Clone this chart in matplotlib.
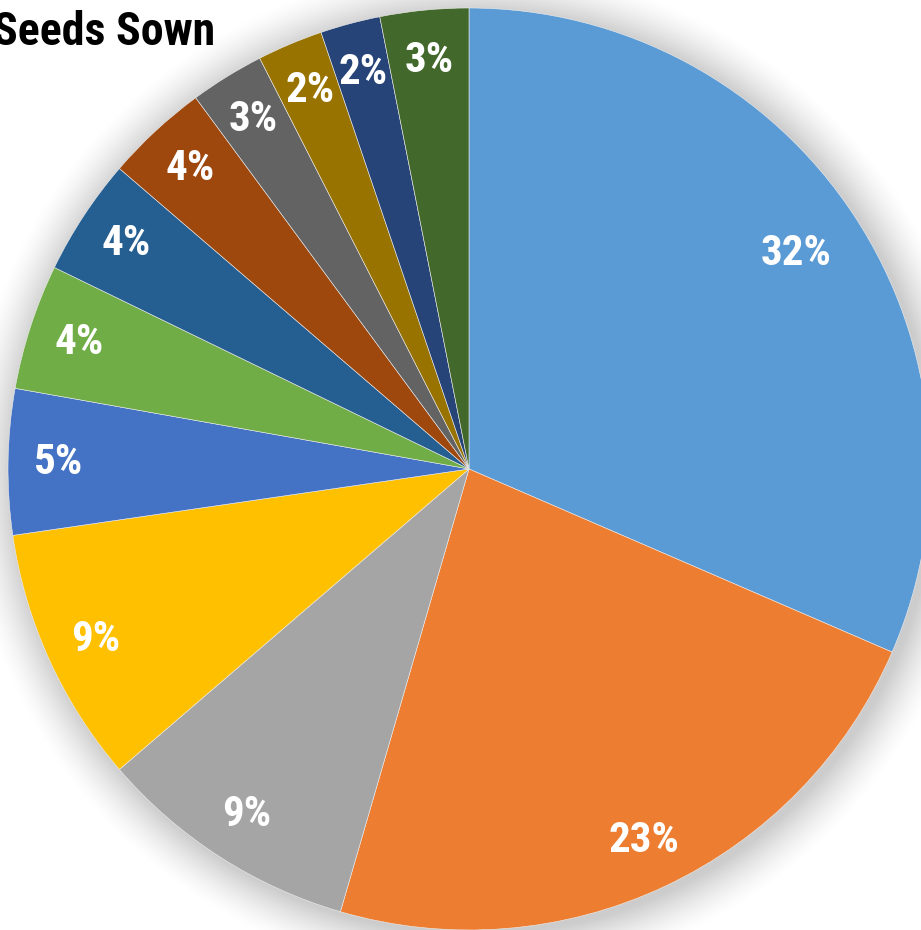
import numpy as np
import matplotlib
matplotlib.use('Agg')
import matplotlib.pyplot as plt

# Share of seeds sown per variety, clockwise from 12 o'clock
shares = [31.5, 23.0, 9.2, 9.0, 5.1, 4.4, 4.1, 3.6, 2.6, 2.3, 2.1, 3.1]
colors = ['#5B9BD5', '#ED7D31', '#A5A5A5', '#FFC000', '#4472C4', '#70AD47',
          '#255E91', '#9E480E', '#636363', '#997300', '#264478', '#43682B']
title = 'Seeds Sown'

W, H = 921, 930
cx, cy, R = 469, H - 469, 461
narrow = ['Roboto Condensed', 'Archivo Narrow', 'DejaVu Sans']

fig = plt.figure(figsize=(W / 100, H / 100), dpi=100)
ax = fig.add_axes([0, 0, 1, 1])

# soft drop shadow under the pie
yy, xx = np.mgrid[0:H, 0:W]
d = np.hypot(xx - (cx + 4), (H - yy) - (cy - 4))
fade = np.clip(1 - (d - R) / 48, 0, 1) ** 1.5
shadow = np.zeros((H, W, 4))
shadow[..., 3] = 0.2 * fade
ax.imshow(shadow, extent=[0, W, 0, H], origin='upper', zorder=0)

wedges, _, autotexts = ax.pie(
    shares, colors=colors, startangle=90, counterclock=False,
    center=(cx, cy), radius=R, autopct='%.0f%%', pctdistance=0.89,
    wedgeprops=dict(linewidth=0.4, edgecolor='#eeeeee'), frame=True)
for w in wedges:
    w.set_zorder(2)
for t in autotexts:
    t.set_color('white')
    t.set_fontsize(31)
    t.set_fontweight('bold')
    t.set_family(narrow)
    t.set_zorder(3)

# the wide label in the big slice sits a little further in
x0, y0 = autotexts[0].get_position()
autotexts[0].set_position((cx + (x0 - cx) * 0.955, cy + (y0 - cy) * 0.955))

ax.set_xlim(0, W)
ax.set_ylim(0, H)
ax.set_aspect('equal')
ax.axis('off')

ax.text(215, H - 45, title, ha='right', va='baseline', fontsize=33,
        fontweight='bold', family=narrow, color='black', zorder=4)

fig.savefig('out.png', dpi=100)
